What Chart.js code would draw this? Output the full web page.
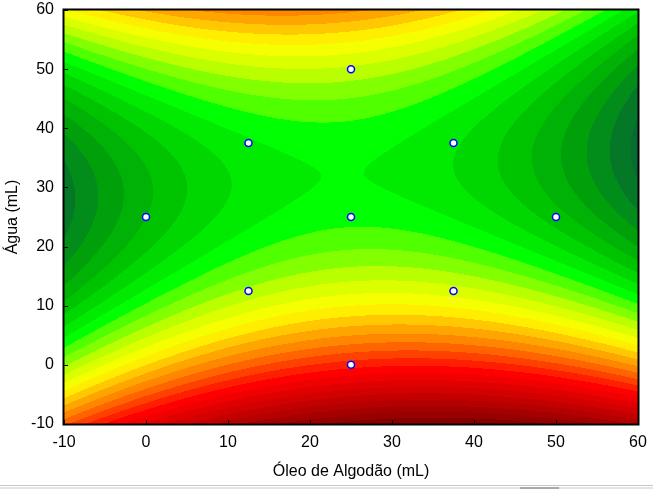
<!DOCTYPE html>
<html>
<head>
<meta charset="utf-8">
<script src="https://cdn.jsdelivr.net/npm/chart.js@4.4.1/dist/chart.umd.min.js"></script>
<style>
  html, body { margin: 0; padding: 0; background: #fff; }
  #wrap { width: 653px; height: 489px; }
</style>
</head>
<body>
<div id="wrap"><canvas id="myChart" width="653" height="489"></canvas></div>
<script>
// tick labels
const oilTicks = [-10, 0, 10, 20, 30, 40, 50, 60];
const waterTicks = [-10, 0, 10, 20, 30, 40, 50, 60];

// experimental design points (Óleo de Algodão, Água)
const designOil = [25, 12.5, 37.5, 0, 25, 50, 12.5, 37.5, 25];
const designWater = [50, 37.5, 37.5, 25, 25, 25, 12.5, 12.5, 0];

// fitted quadratic response surface (in contour level units)
// centre (oil, water) and coefficients: const, oil, water, oil^2, water^2, oil*water
const surfaceCenter = [25, 25];
const surfaceCoef = [0.67, 0.01, -0.175, -0.0055, 0.012, -0.003];

// colour ramp per contour level (level, r, g, b)
const rampStops = [
  [-9, 10, 95, 55],
  [-7, 5, 120, 40],
  [-5, 0, 160, 10],
  [-3, 0, 195, 0],
  [0, 0, 255, 0],
  [1, 80, 255, 0],
  [2, 130, 255, 0],
  [3, 185, 255, 0],
  [4, 220, 255, 0],
  [5, 245, 255, 0],
  [6, 255, 238, 0],
  [7, 255, 200, 0],
  [8, 255, 165, 0],
  [9, 255, 135, 0],
  [10, 255, 100, 0],
  [11, 255, 65, 0],
  [12, 255, 30, 0],
  [13, 255, 0, 0],
  [21.5, 128, 0, 0]
];

function surface(x, y) {
  const u = x - surfaceCenter[0], v = y - surfaceCenter[1];
  const c = surfaceCoef;
  return c[0] + c[1] * u + c[2] * v + c[3] * u * u + c[4] * v * v + c[5] * u * v;
}

function rampColor(k) {
  if (k <= rampStops[0][0]) return rampStops[0].slice(1);
  for (let i = 1; i < rampStops.length; i++) {
    const a = rampStops[i - 1], b = rampStops[i];
    if (k <= b[0]) {
      const t = (k - a[0]) / (b[0] - a[0]);
      return [a[1] + t * (b[1] - a[1]), a[2] + t * (b[2] - a[2]), a[3] + t * (b[3] - a[3])];
    }
  }
  return rampStops[rampStops.length - 1].slice(1);
}

// paints the contour bands inside the plot area, using the chart scales
const contourPlugin = {
  id: 'contour',
  beforeDatasetsDraw(chart) {
    const { ctx, chartArea, scales } = chart;
    const left = Math.round(chartArea.left), top = Math.round(chartArea.top);
    const w = Math.round(chartArea.right) - left, h = Math.round(chartArea.bottom) - top;
    const img = ctx.createImageData(w, h);
    const cache = {};
    for (let j = 0; j < h; j++) {
      const yv = scales.y.getValueForPixel(top + j + 0.5);
      for (let i = 0; i < w; i++) {
        const xv = scales.x.getValueForPixel(left + i + 0.5);
        const k = Math.floor(surface(xv, yv));
        let c = cache[k];
        if (!c) c = cache[k] = rampColor(k);
        const p = (j * w + i) * 4;
        img.data[p] = c[0];
        img.data[p + 1] = c[1];
        img.data[p + 2] = c[2];
        img.data[p + 3] = 255;
      }
    }
    ctx.putImageData(img, left, top);
  },
  afterDatasetsDraw(chart) {
    const { ctx, chartArea, scales } = chart;
    ctx.save();
    ctx.strokeStyle = '#000';
    ctx.lineWidth = 1;
    // inward tick marks
    ctx.beginPath();
    oilTicks.forEach(t => {
      const px = Math.round(scales.x.getPixelForValue(t)) + 0.5;
      ctx.moveTo(px, chartArea.bottom);
      ctx.lineTo(px, chartArea.bottom - 4);
    });
    waterTicks.forEach(t => {
      const py = Math.round(scales.y.getPixelForValue(t)) + 0.5;
      ctx.moveTo(chartArea.left, py);
      ctx.lineTo(chartArea.left + 4, py);
    });
    ctx.stroke();
    // frame
    ctx.lineWidth = 2;
    ctx.strokeRect(chartArea.left - 0.5, chartArea.top - 0.5, chartArea.right - chartArea.left + 1, chartArea.bottom - chartArea.top + 1);
    ctx.restore();
  },
  afterDraw(chart) {
    const { ctx, width } = chart;
    ctx.save();
    ctx.fillStyle = '#c8c8c8';
    ctx.fillRect(0, 485, width, 1);
    ctx.fillStyle = '#e4e4e4';
    ctx.fillRect(0, 487, width, 2);
    ctx.fillStyle = '#a8a8a8';
    ctx.fillRect(520, 487, 39, 2);
    ctx.restore();
  }
};

Chart.defaults.font.family = '"Liberation Sans", Arial, sans-serif';
Chart.defaults.font.size = 16;
Chart.defaults.color = '#000';

const points = designOil.map((x, i) => ({ x: x, y: designWater[i] }));

const config = {
  type: 'scatter',
  data: {
    datasets: [{
      data: points,
      pointRadius: 3.5,
      pointHoverRadius: 3.5,
      pointBackgroundColor: '#ffffff',
      pointBorderColor: '#0000ff',
      pointBorderWidth: 1.5
    }]
  },
  options: {
    responsive: false,
    animation: false,
    events: [],
    layout: { padding: { top: 10, right: 15, left: 0, bottom: 0 } },
    plugins: { legend: { display: false }, tooltip: { enabled: false } },
    scales: {
      x: {
        type: 'linear',
        min: -10, max: 60,
        afterBuildTicks: s => { s.ticks = oilTicks.map(v => ({ value: v })); },
        afterFit: s => { s.height = 65; s.paddingLeft = 0; s.paddingRight = 0; },
        grid: { display: false, drawTicks: false },
        border: { display: false },
        ticks: { padding: 9, maxRotation: 0 },
        title: { display: true, text: 'Óleo de Algodão (mL)', padding: { top: 0, bottom: 8 } }
      },
      y: {
        type: 'linear',
        min: -10, max: 60,
        afterBuildTicks: s => { s.ticks = waterTicks.map(v => ({ value: v })); },
        afterFit: s => { s.width = 64; s.paddingTop = 0; s.paddingBottom = 0; },
        grid: { display: false, drawTicks: false },
        border: { display: false },
        ticks: { padding: 10 },
        title: { display: true, text: 'Água (mL)', padding: { top: 3, bottom: 0 } }
      }
    }
  },
  plugins: [contourPlugin]
};

const myChart = new Chart(document.getElementById('myChart'), config);
</script>
</body>
</html>
